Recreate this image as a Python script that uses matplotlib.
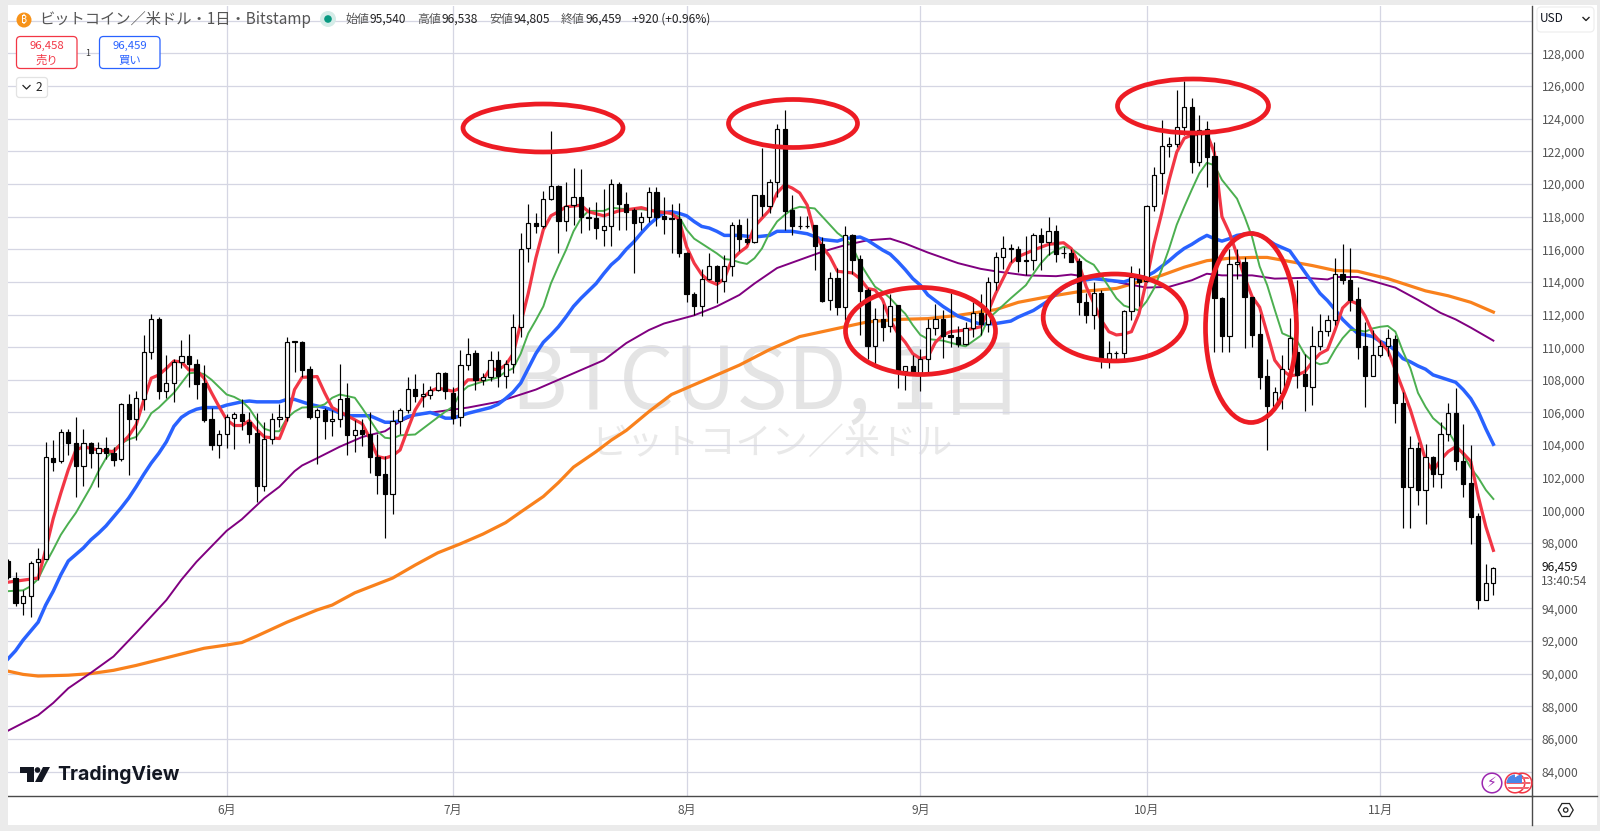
import numpy as np
import matplotlib
matplotlib.use('Agg')
import matplotlib.pyplot as plt
from matplotlib.patches import Ellipse, Circle, FancyBboxPatch, Polygon, Rectangle, RegularPolygon

plt.rcParams['font.family'] = ['Noto Sans CJK JP', 'DejaVu Sans']

# candles in thousand USD, one row per day, 3 May to 16 Nov
opens = [96.9,95.85,94.3,94.75,96.85,97.05,103.2,103,104.8,104.1,102.75,104.1,103.5,103.8,103.5,103.15,106.5,105.6,106.85,109.7,
111.75,107.3,107.8,109.1,109.45,108.95,107.8,105.6,104,104.65,105.65,105.9,105.4,104.75,101.5,104.4,105.6,105.75,110.3,110.3,
108.65,105.7,106.15,105.45,105.6,106.9,104.6,104.95,104.7,103.3,102.2,101,105.45,106.15,107.45,107,107.1,107.35,108.4,107.2,
105.7,108.9,109.65,108,108.2,109.2,108.25,108.95,111.25,116.05,117.6,117.45,119.1,119.85,117.75,118.7,119.2,118,117.9,117.2,
117.4,120,118.8,118.4,117.65,117.95,119.5,118.05,117.9,117.85,115.75,113.25,112.5,114.2,115,114.05,115,117.5,116.65,116.45,
119.3,118.65,120.1,123.35,118.4,117.45,117.45,117.5,116.3,112.9,114.25,112.45,116.9,115.4,113.5,110.1,111.75,111.3,112.6,108.55,
108.85,108.4,109.25,111.2,111.75,110.75,110.65,110.2,111.15,112.1,111.45,114,115.5,116.1,116,115.35,115.35,116.85,116.45,117.1,
115.75,115.75,115.3,112.75,112,113.35,109.3,109.65,109.65,112.2,114.3,114.05,118.65,120.65,122.3,122.45,123.5,124.7,121.35,123.35,
121.7,113,110.7,115.1,115.25,113.05,110.8,108.25,106.4,107.2,108.65,109.7,108.35,107.55,110.1,111,111.65,114.5,114.1,112.95,
110.05,108.25,109.55,110.05,110.5,106.55,101.45,103.85,101.25,103.25,102.25,104.65,105.95,103.05,101.65,99.65,94.5,95.54]
highs = [97,96.2,95.15,96.9,97.7,104.2,104.3,105,105,105.7,105,104.2,104.2,104.5,103.9,106.6,107.15,107.3,110.75,112.05,
111.85,109.5,109.3,110.45,110.8,109.3,108.9,106.3,104.95,105.9,106.05,106.85,106,105.95,105.4,105.95,106.5,110.6,110.4,110.4,
108.85,106.25,106.3,106.15,109,107.8,105.55,105.6,106.05,104.7,103.35,106.15,106.3,108.15,108.35,107.8,107.6,108.5,108.5,107.55,
109.85,110.55,109.8,108.4,109.75,109.75,109.2,112.05,117,118.8,118.2,119.55,123.25,119.95,120.1,121,120.9,118.6,118.9,119.7,
120.3,120.15,119.5,118.5,118.3,119.8,119.8,119.2,118.8,118.85,115.85,113.4,114.8,115.75,115.05,115.65,117.7,117.85,117.9,119.35,
122.2,120.3,123.7,124.55,119.3,118.05,118.05,117.5,116.75,114.6,114.85,117.4,116.95,115.65,113.6,112.4,112.65,113.25,112.6,108.85,
109.55,109.9,111.75,112.65,112.25,113.3,111.3,111.55,112.75,113.25,114.3,115.85,116.8,116.35,116.2,116.8,117,117.3,118,117.5,
116.15,116,115.45,113.35,114,113.5,110.4,109.75,112.3,115,114.85,118.7,121.05,123.95,122.9,125.75,126.3,125.25,124.2,123.85,
122.6,113.1,116,116,115.5,113.1,112.05,109.25,107.55,109.55,111.8,114.1,109.6,111.3,112.05,111.95,115.45,116.35,116.05,113.7,
111.55,111.05,110.45,111.1,110.75,107.25,104.55,104.2,104.05,103.35,105.4,106.6,107.5,105.3,104,99.85,96.7,96.538]
lows = [95.8,94.15,93.6,93.45,95.75,97,102.4,102.9,103.4,100.8,101.5,102.6,101.45,103.15,102.7,103.05,102.15,104.3,106.15,109.3,
106.85,106.9,106.65,108.75,107.55,106.85,105.4,103.7,103.2,103.85,103.75,104.95,104.1,100.5,101.2,104.05,105.1,105.45,108.45,108.2,
105.6,102.85,104.4,104.55,105.1,103.4,103.55,103.95,102.3,101,98.3,99.75,104.65,105.95,106.65,106.35,106.85,107.3,106.8,105.3,
105.15,108.6,107.35,107.7,107.9,107.55,107.5,108.4,110.65,115.25,117,117.3,119,115.75,117.1,117.5,117,117.2,116.6,116.2,
116.2,117.2,117.2,114.55,117.2,117.7,117.45,116.95,115.8,115.55,112.75,112,111.9,114.1,112.7,113.4,114.35,115.9,116.35,116.4,
118.05,118.2,119.2,117.2,116.85,117.25,117.3,114.75,112.75,112.3,112,111.65,114.5,110.75,109.3,109,110.4,110.9,107.5,107.4,
108.4,107.3,108.4,110.75,109.35,110,110,110.15,110.6,110.75,110.95,113.5,114.8,115.2,114.6,114.4,114.75,114.7,115.65,115.2,
115.45,115.2,111.95,111.5,111.1,108.7,108.7,109.3,109.25,111.65,112.5,114,118.35,119.4,121.65,122.25,123,120.7,121.1,119.8,
109.7,109.7,109.7,114.2,109.95,110,107.45,103.7,106.25,106.2,108,107.5,106.1,106.45,109.85,110.7,111.35,113.9,112.2,109.3,
106.35,108.25,109.4,109.45,105.35,98.95,98.95,100.3,99.15,101.45,101.4,104.25,102.5,100.85,97.95,93.95,94.5,94.805]
closes = [95.9,94.3,94.75,96.8,97.05,103.3,102.95,104.8,104.1,102.75,104.1,103.5,103.8,103.5,103.1,106.5,105.6,106.9,109.7,111.7,
107.3,107.8,109.1,109.45,108.95,107.75,105.55,104,104.65,105.7,105.9,105.45,104.7,101.5,104.35,105.6,105.75,110.3,110.35,108.6,
105.7,106.15,105.45,105.6,106.8,104.6,104.9,104.65,103.3,102.15,101,105.45,106.15,107.45,107,107.15,107.4,108.4,107.3,105.65,
108.9,109.6,108,108.2,109.2,108.25,108.95,111.25,116,117.6,117.45,119.1,119.85,117.75,118.65,119.2,118,117.9,117.3,117.4,
120,118.8,118.3,117.6,117.95,119.5,118,117.85,117.85,115.75,113.25,112.5,114.2,115,114.05,115,117.5,116.65,116.45,119.3,
118.65,120.1,123.35,118.35,117.4,117.4,117.4,116.2,112.85,114.25,112.45,116.85,115.35,113.45,110.1,111.75,111.25,112.55,108.55,108.85,
108.45,109.25,111.2,111.75,110.7,110.65,110.2,111.15,112.1,111.45,114,115.5,116.1,116,115.3,115.3,116.85,116.45,117.1,115.7,
115.75,115.25,112.75,112,113.3,109.3,109.65,109.65,112.2,114.3,114,118.65,120.55,122.3,122.45,123.5,124.7,121.35,123.3,121.65,
113,110.7,115.1,115.25,113.05,110.75,108.2,106.4,107.25,108.65,110.55,108.3,107.6,110.1,111,111.65,114.5,114.1,112.9,110,
108.25,109.55,110.05,110.55,106.55,101.45,103.85,101.25,103.25,102.25,104.65,105.95,103,101.6,99.6,94.5,95.55,96.459]

# moving averages, day index and thousand USD
red_days = [0,4,5,6,7,8,9,10,12,14,16,17,18,19,20,21,22,23,24,25,26,27,28,29,30,31,32,33,34,36,37,38,39,41,42,43,44,45,47,48,49,50,51,52,53,54,55,56,57,59,60,61,63,64,65,66,67,68,69,70,71,72,73,74,76,77,79,81,84,86,88,89,90,91,92,93,94,95,96,97,98,99,100,101,102,103,104,105,106,107,108,109,110,111,112,113,114,115,116,117,118,119,120,121,122,123,124,125,127,129,130,131,133,134,136,138,140,141,142,143,144,145,146,147,148,149,150,151,152,153,154,155,156,157,159,160,161,162,163,164,165,166,167,168,169,170,171,172,173,174,175,176,177,178,179,180,181,183,184,185,186,187,188,189,190,191,192,193,194,195,196,197]
red_vals = [95.6,95.85,97.6,99.5,101.05,102.5,103.7,103.9,103.7,103.6,104.55,105.25,106.75,108.1,108.3,108.7,109.15,109.1,108.6,108.6,108.1,107.2,106.35,105.55,105.2,105.2,105.5,104.95,104.5,104.4,105.55,107.4,108.15,108.2,107.2,106.3,106.05,105.8,105.3,104.4,103.3,103.2,103.35,103.7,104.95,106.15,106.9,107.3,107.5,107.3,107.5,108,108,108.7,108.6,108.9,109.6,111.45,113.3,115.45,117.2,118.05,118.3,118.6,118.7,118.3,118.05,118.35,118.55,118.3,118.2,117.8,116.15,115.15,114.45,114.05,113.85,114.2,115.35,115.8,116.15,117.4,117.9,118.4,119.45,119.95,119.75,119.45,118.7,116.95,116.15,115.55,114.65,114.6,114.55,114.2,113.6,113.5,112.9,111.65,110.85,110.3,109.6,109.3,109.4,110.3,110.75,110.95,111.05,111.25,112.2,113.3,115.15,115.55,115.95,116.3,116.4,116.05,115.15,113.7,112.7,111.65,110.95,110.75,110.8,110.95,112.05,114.1,116.35,118.2,120.25,121.95,122.8,123,123.1,121.9,118,117,115.65,114.3,113.1,112.45,110.85,109.2,108.6,108.25,108.3,108.5,109.1,109.6,109.85,111.05,112.4,112.85,112.65,111.9,110.85,109.8,108.6,107.4,106.15,104.65,103.1,102.4,103.1,103.6,103.9,103.5,103,100.85,99,97.55]
green_days = [0,2,3,4,5,6,7,8,9,10,11,12,13,14,15,16,17,18,19,20,21,22,23,24,25,26,27,28,29,30,31,32,33,34,35,36,37,38,39,41,42,43,44,46,47,48,49,50,51,52,54,56,58,59,60,61,63,65,66,67,68,69,70,71,72,73,74,75,76,77,79,80,82,84,87,89,90,91,92,93,94,95,96,97,98,99,100,101,102,103,104,105,107,108,109,110,111,112,113,114,115,116,117,118,119,120,121,122,124,126,127,129,130,131,133,135,136,137,138,139,140,141,142,143,144,145,146,147,148,149,150,151,152,153,154,155,156,157,158,159,160,161,163,164,165,166,167,168,169,170,171,172,173,174,175,176,177,178,179,180,181,182,183,184,185,186,187,188,189,190,191,192,193,194,195,196,197]
green_vals = [95.05,95.1,95.35,95.8,96.75,97.6,98.5,99.2,99.85,100.65,101.45,102.4,103.2,103.7,104.1,104.35,104.5,105.15,105.95,106.3,106.75,107.2,107.8,108.4,108.45,108.35,108,107.55,107.1,106.95,106.7,106.25,105.55,105,104.85,104.85,105.65,106.05,106.3,106.35,106.5,106.9,107.1,106.9,106.25,105.55,104.85,104.45,104.4,104.6,104.65,105.35,106.05,106.35,107.2,107.6,107.9,108.15,108.5,108.7,109.6,110.85,111.65,112.5,113.9,114.95,115.95,117.1,117.9,118.35,118.35,118.55,118.45,118.45,118.3,118,117.2,116.65,116.35,116.05,115.75,115.4,115.35,115.2,115.1,115.45,116.05,117,117.7,118.1,118.45,118.6,118.5,118,117.5,117,116.65,116.15,115.15,114.4,113.7,113.4,113,112.5,112.05,111.35,110.75,110.5,110.4,110.15,110.05,110.7,111.75,112.15,113,113.8,114.5,115.15,115.65,115.95,116.15,116.05,115.7,115.3,115.05,114.4,113.7,113,112.55,112.4,112.25,112.8,113.6,114.75,116.05,117.5,118.6,119.65,120.65,121.3,121.15,120.25,119.1,118,116.75,114.95,113.8,112.3,110.85,110.65,110.35,109.55,109.15,108.95,109.05,109.85,110.55,111.05,111.05,110.95,111.15,111.25,111.3,110.95,109.75,108.7,107.2,106.35,105.65,105.25,104.85,104.1,103.4,102.6,102,101.25,100.7]
blue_days = [0,1,2,3,4,5,6,7,8,9,10,11,12,13,14,15,16,17,18,19,20,21,22,23,24,25,26,28,29,31,32,33,34,36,37,38,39,40,42,43,45,48,49,50,51,52,53,54,56,57,58,59,61,64,65,66,67,68,69,70,71,72,73,74,75,76,77,78,79,80,81,82,83,84,85,86,87,88,89,90,91,92,93,94,95,97,99,101,102,104,106,108,110,111,113,114,116,117,118,119,120,121,122,124,126,129,131,133,134,136,137,138,139,140,141,142,144,146,148,149,151,152,153,154,155,156,157,158,159,160,161,162,163,165,166,167,168,169,170,171,172,173,174,175,176,177,178,179,180,181,182,183,184,185,186,187,188,189,190,191,192,193,194,195,196,197]
blue_vals = [90.9,91.4,92.05,92.6,93.15,94.2,95.05,96.05,96.9,97.3,97.7,98.2,98.6,99.05,99.6,100.15,100.75,101.45,102.2,102.9,103.5,104.2,105.15,105.7,106,106.2,106.3,106.3,106.45,106.65,106.7,106.65,106.65,106.65,106.8,106.8,106.65,106.5,106.3,106.15,105.8,105.8,105.6,105.4,105.4,105.5,105.75,105.85,106,105.85,105.65,105.65,105.95,106.3,106.5,106.85,107.25,107.8,108.7,109.6,110.3,110.75,111.25,111.85,112.5,113,113.45,113.9,114.5,115.05,115.45,116,116.45,117,117.5,117.9,118.25,118.3,118.2,118.05,117.7,117.4,117.3,117.1,116.85,116.85,116.75,116.85,117.1,117.1,116.95,116.6,116.5,116.65,116.75,116.55,115.95,115.7,115.25,114.75,114.2,113.8,113.2,112.5,111.9,111.4,111.45,111.6,111.85,112.25,112.55,112.85,113.25,113.65,113.9,114.05,114.2,114.1,114,114.15,114.35,114.6,114.95,115.3,115.7,116.05,116.3,116.6,116.85,116.65,116.5,116.65,116.85,117,116.85,116.6,116.3,116.1,115.9,115.25,114.6,113.95,113.3,112.85,112.3,111.7,111.25,110.85,110.75,110.65,110.35,110.15,109.8,109.3,109.1,108.85,108.65,108.3,108.15,108,107.85,107.4,106.85,106.05,105,104.05]
purple_days = [0,4,6,8,11,14,17,19,21,23,25,27,29,31,34,36,38,39,41,44,47,50,52,54,57,61,65,70,74,79,82,85,87,89,91,94,97,99,102,105,108,111,114,117,119,122,126,129,131,135,139,141,145,148,151,154,157,159,161,165,168,172,175,176,179,181,184,187,190,192,194,197]
purple_vals = [86.5,87.45,88.2,89.1,90.05,91.05,92.5,93.5,94.5,95.75,96.85,97.8,98.75,99.45,100.75,101.45,102.4,102.75,103.2,103.9,104.5,104.85,105.45,105.85,106.05,106.3,106.65,107.4,108.2,109.2,110.25,111.05,111.45,111.7,111.95,112.5,113.2,113.9,114.85,115.35,115.85,116.25,116.55,116.65,116.35,115.8,115.15,114.8,114.65,114.4,114.35,114.45,114.2,113.9,113.65,113.7,114.1,114.5,114.4,114.4,114.2,114.25,114.15,114.3,114.3,114.05,113.65,112.9,112.1,111.7,111.2,110.4]
orange_days = [0,2,4,8,11,14,17,20,23,26,29,31,33,37,41,43,46,51,54,57,60,63,66,68,71,73,75,78,80,82,85,88,91,94,97,101,105,107,111,114,118,122,126,131,134,138,142,147,150,153,156,159,162,165,167,170,173,176,179,183,185,188,191,194,197]
orange_vals = [90.15,89.95,89.85,89.9,90,90.2,90.5,90.85,91.2,91.55,91.75,91.9,92.3,93.15,93.9,94.2,94.95,95.85,96.65,97.4,97.95,98.55,99.25,99.9,100.85,101.7,102.65,103.6,104.3,104.9,106.05,107.1,107.7,108.3,108.9,109.85,110.65,110.85,111.25,111.55,111.7,111.75,111.95,112.3,112.75,113.1,113.4,113.6,114,114.4,114.9,115.3,115.45,115.5,115.5,115.25,115,114.7,114.65,114.2,113.9,113.45,113.15,112.75,112.15]

month_days = [29, 59, 90, 121, 151, 182]
month_labels = ['6月', '7月', '8月', '9月', '10月', '11月']
price_ticks = list(range(84000, 130001, 2000))

W, H = 1600, 831
fig = plt.figure(figsize=(W/100, H/100), dpi=100, facecolor='white')
ax = fig.add_axes([8/W, (H-796)/H, (1532-8)/W, 790/H])
ax.set_facecolor('none')

o = np.array(opens)*1000
h = np.array(highs)*1000
l = np.array(lows)*1000
c = np.array(closes)*1000
days = np.arange(len(o))
up = c >= o

ax.vlines(days, l, h, color='black', lw=0.85, zorder=4)
ax.bar(days[up], (c-o)[up], bottom=o[up], width=0.56, facecolor='white', edgecolor='black', lw=0.85, zorder=5)
ax.bar(days[~up], (o-c)[~up], bottom=c[~up], width=0.56, facecolor='black', edgecolor='black', lw=0.85, zorder=5)

for d, v, col, lw in [(orange_days, orange_vals, '#f9811c', 2.3),
                      (purple_days, purple_vals, '#800080', 1.4),
                      (blue_days, blue_vals, '#2962ff', 2.5),
                      (green_days, green_vals, '#4caf50', 1.4),
                      (red_days, red_vals, '#f23645', 2.3)]:
    ax.plot(d, np.array(v)*1000, color=col, lw=lw, zorder=3, solid_joinstyle='round')

ax.set_xlim(0, (1532-8)/7.54)
ax.set_ylim(94000-(796-608.3)/16.32*1000, 94000+(608.3-6)/16.32*1000)
ax.set_xticks(month_days)
ax.set_xticklabels(month_labels)
ax.set_yticks(price_ticks)
ax.set_yticklabels(['' if p in (96000, 130000) else f'{p:,}' for p in price_ticks])
ax.yaxis.tick_right()
ax.tick_params(axis='both', length=0, labelcolor='#555555', labelsize=8.6)
ax.tick_params(axis='y', pad=7)
ax.tick_params(axis='x', pad=6)
ax.grid(True, color='#d5d6e3', lw=0.9, zorder=0)
ax.set_axisbelow(True)
for s in ['top', 'left']:
    ax.spines[s].set_visible(False)
for s in ['right', 'bottom']:
    ax.spines[s].set_color('#4a4a4a')
    ax.spines[s].set_linewidth(1.0)

# everything else is placed in picture pixels on a clear sheet
ui = fig.add_axes([0, 0, 1, 1], facecolor='none')
ui.set_xlim(0, W)
ui.set_ylim(H, 0)
ui.axis('off')

# faint watermark sits behind the main axes
bg = fig.add_axes([8/W, (H-796)/H, (1532-8)/W, 790/H], zorder=-1)
bg.set_xlim(8, 1532)
bg.set_ylim(796, 6)
bg.axis('off')
bg.text(768, 385, 'BTCUSD, 1日', fontsize=62, color='#e4e4e4', ha='center', va='center')
bg.text(772, 444, 'ビットコイン／米ドル', fontsize=26, color='#e9e9e9', ha='center', va='center')

# hand drawn ovals
for cx, cy, w, hh, ang in [(543, 128, 160, 48, 0), (793, 123.5, 129, 48, 0), (1193, 106, 151, 54, 0),
                           (920.5, 331, 150, 87, 0), (1114.7, 317.5, 143, 87, 0), (1251, 328, 91, 189, 0)]:
    ui.add_patch(Ellipse((cx, cy), w, hh, angle=ang, fill=False, ec='#ed1c24', lw=3.4))

# frame
for r in [(0, 0, 7.5, H), (0, 0, W, 5), (1597, 0, 3, H), (0, 825, W, 6)]:
    ui.add_patch(Rectangle((r[0], r[1]), r[2], r[3], fc='#ebebeb', ec='none'))
ui.plot([1532, 1532], [796, 825], color='#4a4a4a', lw=1.0)
ui.plot([1532, 1597], [796, 796], color='#4a4a4a', lw=1.0)

# header
ui.add_patch(Circle((24, 20), 7.5, fc='#f7931a', ec='none'))
ui.text(24, 20, '₿', color='white', fontsize=7.5, ha='center', va='center',
        family=['Noto Sans', 'Roboto', 'Open Sans', 'Inter', 'Lato', 'DejaVu Sans'], weight='bold')
ui.text(39, 19.5, 'ビットコイン／米ドル・1日・Bitstamp', fontsize=11, color='#555555', va='center')
ui.add_patch(Circle((328, 19), 8, fc='#d5ece8', ec='none'))
ui.add_patch(Circle((328, 19), 3.8, fc='#089981', ec='none'))
for x, lab, val in [(345, '始値', '95,540'), (417, '高値', '96,538'), (489, '安値', '94,805'), (561, '終値', '96,459')]:
    ui.text(x, 19, lab, fontsize=8.6, color='#555555', va='center')
    ui.text(x+24, 19, val, fontsize=8.6, color='#222222', va='center')
ui.text(632.5, 19, '+920 (+0.96%)', fontsize=8.6, color='#222222', va='center')

ui.add_patch(FancyBboxPatch((16.5, 36.5), 60.5, 32, boxstyle='round,pad=0,rounding_size=4', fc='white', ec='#f23645', lw=0.9))
ui.text(46.5, 46, '96,458', fontsize=8.2, color='#f23645', ha='center', va='center')
ui.text(46.5, 60, '売り', fontsize=8.2, color='#f23645', ha='center', va='center')
ui.text(88, 53, '1', fontsize=6.5, color='#333333', ha='center', va='center')
ui.add_patch(FancyBboxPatch((99.5, 36.5), 60.5, 32, boxstyle='round,pad=0,rounding_size=4', fc='white', ec='#2962ff', lw=0.9))
ui.text(129.5, 46, '96,459', fontsize=8.2, color='#2962ff', ha='center', va='center')
ui.text(129.5, 60, '買い', fontsize=8.2, color='#2962ff', ha='center', va='center')
ui.add_patch(FancyBboxPatch((16.5, 77.5), 31, 20, boxstyle='round,pad=0,rounding_size=3', fc='white', ec='#e3e3e3', lw=0.9))
ui.plot([23, 26.5, 30], [85.5, 89, 85.5], color='#222222', lw=0.9)
ui.text(39, 87.5, '2', fontsize=8.6, color='#222222', ha='center', va='center')

# price scale extras
ui.add_patch(FancyBboxPatch((1537, 7), 57, 25, boxstyle='round,pad=0,rounding_size=4', fc='white', ec='#eeeeee', lw=0.9))
ui.text(1540, 18.5, 'USD', fontsize=8.6, color='#131722', va='center')
ui.plot([1583, 1586, 1589], [17.5, 20.5, 17.5], color='#222222', lw=1.0)
ui.text(1541, 567, '96,459', fontsize=8.6, color='#111111', va='center')
ui.text(1541, 581.5, '13:40:54', fontsize=8.6, color='#555555', va='center')
ui.add_patch(RegularPolygon((1565.7, 810), 6, radius=7.5, orientation=np.pi/2, fc='white', ec='#222222', lw=0.9))
ui.add_patch(Circle((1565.7, 810), 2.2, fc='white', ec='#222222', lw=0.9))

# logo
ui.add_patch(Polygon([(20, 767), (34, 767), (34, 782), (27, 782), (27, 772.5), (20, 772.5)], fc='#131722', ec='none'))
ui.add_patch(Circle((37.5, 770), 2.8, fc='#131722', ec='none'))
ui.add_patch(Polygon([(43, 767), (50, 767), (42, 782), (35, 782)], fc='#131722', ec='none'))
ui.text(57, 775, 'TradingView', fontsize=14, family=['Inter', 'DejaVu Sans'], weight='bold', color='#131722', va='center')

# event markers
ui.add_patch(Circle((1492, 783), 9.8, fc='white', ec='#9c27b0', lw=1.1))
ui.text(1492, 783, '⚡', fontsize=10, color='#9c27b0', ha='center', va='center', family='DejaVu Sans')
for cx in (1522, 1515):
    ui.add_patch(Circle((cx, 783), 9.8, fc='white', ec='#f23645', lw=1.1, zorder=5))
    disc = Circle((cx, 783), 8.5, transform=ui.transData)
    for yy in (778, 783, 788):
        st = ui.add_patch(Rectangle((cx-9, yy-1.3), 18, 2.6, fc='#f0646f', ec='none', zorder=6))
        st.set_clip_path(disc)
    bl = ui.add_patch(Rectangle((cx-9, 774), 9, 9, fc='#4a86e8', ec='none', zorder=7))
    bl.set_clip_path(disc)

fig.savefig('out.png', dpi=100)
